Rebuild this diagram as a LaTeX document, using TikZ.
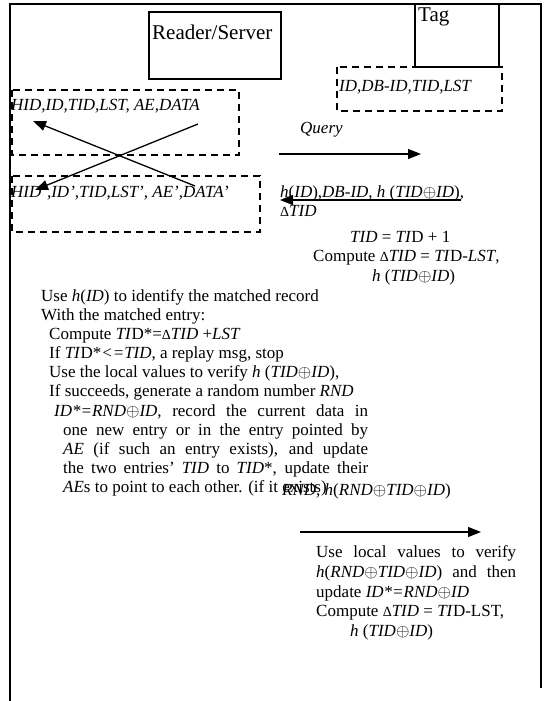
\documentclass[tikz,border=0pt]{standalone}
\usepackage{fontspec}
\setmainfont{Liberation Serif}
\usetikzlibrary{arrows.meta}
\newcommand{\opl}{${\oplus}$}
\newcommand{\dlt}{{\fontsize{14}{14}\selectfont Δ}}

\begin{document}
\begin{tikzpicture}[x=1pt, y=-1pt,
  every node/.style={font=\fontsize{17}{19}\selectfont, inner sep=0pt, anchor=base west},
  big/.style={font=\fontsize{21}{24}\selectfont},
  dbox/.style={draw, line width=1.2pt, dash pattern=on 7pt off 5pt},
  msg/.style={line width=1.3pt, -{Triangle[length=13pt, width=10pt]}}]
\useasboundingbox (0,0) rectangle (545,701);
% outer frame
\draw[line width=1.3pt] (10,701) -- (10,4) -- (541,4) -- (541,688);
% reader/server and tag
\draw[line width=1.2pt] (149,12) rectangle (281,79);
\node[big] (server) at (152,40) {Reader/Server};
\draw[line width=1.2pt] (415,4) rectangle (499,67);
\node[big] (tag) at (418,22) {Tag};
\draw[dbox] (337,67) rectangle (502,111);
\node (tagrec) at (339,92) {\textit{ID,DB-ID,TID,LST}};
% server records, swapped
\draw[dbox] (12,90) rectangle (239,155);
\node (rec) at (11,110) {\textit{HID,ID,TID,LST, AE,DATA}};
\draw[dbox] (12,176) rectangle (260,232);
\node (recb) at (11,197) {\textit{HID’,ID’,TID,LST’, AE’,DATA’}};
\coordinate (a1) at (198,124); \coordinate (a2) at (35,190);
\coordinate (b1) at (195,186); \coordinate (b2) at (33,121);
\draw[msg] (a1) -- (a2);
\draw[msg] (b1) -- (b2);
% query and reply
\node (query) at (300,133) {\textit{Query}};
\coordinate (q1) at (279,154); \coordinate (q2) at (421,154);
\draw[msg] (q1) -- (q2);
\node (reply) at (280,197) {\textit{h}(\textit{ID}),\textit{DB-ID}, \textit{h} (\textit{TID}\opl\textit{ID}),};
\node (dtid) at (280,216) {\dlt\textit{TID}};
\coordinate (r1) at (461,200); \coordinate (r2) at (280,200);
\draw[msg] (r1) -- (r2);
\node (tidinc) at (350,242) {\textit{TID} = \textit{TI}D + 1};
\node (tcomp) at (313,261) {Compute \dlt\textit{TID} = \textit{TI}D-\textit{LST},};
\node (thash) at (372,281) {\textit{h} (\textit{TID}\opl\textit{ID})};
% server side check
\node (l1) at (41,301) {Use \textit{h}(\textit{ID}) to identify the matched record};
\node (l2) at (41,320) {With the matched entry:};
\node (l3) at (49,339) {Compute \textit{TI}D*=\dlt\textit{TID} +\textit{LST}};
\node (l4) at (49,358) {If \textit{TI}D*\textit{<=TID}, a replay msg, stop};
\node (l5) at (49,377) {Use the local values to verify \textit{h} (\textit{TID}\opl\textit{ID}),};
\node (l6) at (49,396) {If succeeds, generate a random number \textit{RND}};
\node (l7) at (54,416) {\makebox[314pt][s]{\textit{ID*=RND}\opl\textit{ID,} record the current data in}};
\node (l8) at (63,435) {\makebox[305pt][s]{one new entry or in the entry pointed by}};
\node (l9) at (63,454) {\makebox[305pt][s]{\textit{AE} (if such an entry exists), and update}};
\node (l10) at (63,473) {\makebox[305pt][s]{the two entries’ \textit{TID} to \textit{TID}*, update their}};
\node (l11) at (63,492) {\textit{AE}s to point to each other. (if it exists)};
% update message
\node (rnd) at (282,495) {\textit{RND, h}(\textit{RND}\opl\textit{TID}\opl\textit{ID})};
\coordinate (s1) at (300,532); \coordinate (s2) at (481,532);
\draw[msg] (s1) -- (s2);
\node (v1) at (316,557) {\makebox[200pt][s]{Use local values to verify}};
\node (v2) at (316,577) {\makebox[200pt][s]{\textit{h}(\textit{RND}\opl\textit{TID}\opl\textit{ID}) and then}};
\node (v3) at (316,597) {update \textit{ID*=RND}\opl\textit{ID}};
\node (v4) at (316,616) {Compute \dlt\textit{TID} = \textit{TI}D-LST,};
\node (v5) at (350,636) {\textit{h} (\textit{TID}\opl\textit{ID})};
\end{tikzpicture}
\end{document}
